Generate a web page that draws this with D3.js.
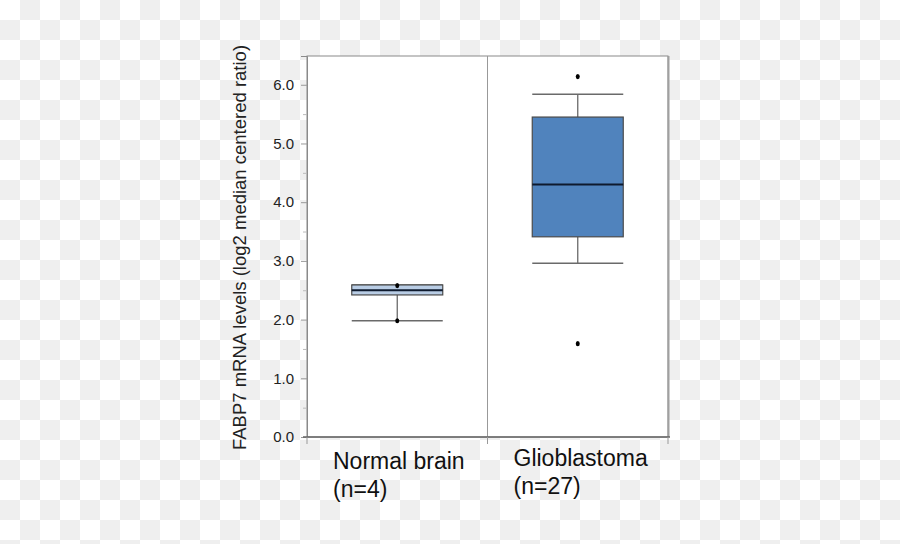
<!DOCTYPE html>
<html><head><meta charset="utf-8">
<script src="https://cdn.jsdelivr.net/npm/d3@7"></script>
<style>html,body{margin:0;padding:0;}svg{display:block;}</style>
</head><body>
<svg id="chart" width="900" height="544"></svg>
<script>
const categories = ["Normal brain", "Glioblastoma"];
const sampleCounts = ["(n=4)", "(n=27)"];
const q1 = [2.42, 3.41];
const medians = [2.50, 4.30];
const q3 = [2.59, 5.45];
const whiskerLow = [1.98, 2.96];
const whiskerHigh = [2.59, 5.84];
const outliers = [[1.98, 2.58], [6.14, 1.59]];
const boxFills = ["#b9cde5", "#5083bd"];
const yTicks = [0, 1, 2, 3, 4, 5, 6];
const yMinorTicks = [0.5, 1.5, 2.5, 3.5, 4.5, 5.5];
const yTitle = "FABP7 mRNA levels (log2 median centered ratio)";

(function () {
const svg = d3.select("#chart");
const W = 900, H = 544;

// checkerboard background (transparent PNG look)
const cells = [];
for (let r = 0; r < Math.ceil(H / 20); r++)
  for (let c = 0; c < Math.ceil(W / 20); c++)
    if ((r + c) % 2 === 1) cells.push([c, r]);
svg.append("rect").attr("width", W).attr("height", H).attr("fill", "#ffffff");
svg.append("g").selectAll("rect").data(cells).join("rect")
  .attr("x", d => d[0] * 20).attr("y", d => d[1] * 20).attr("width", 20).attr("height", 20)
  .attr("fill", "#efefef");

const pLeft = 307, pRight = 668, pTop = 56, pBottom = 437;
const x = d3.scaleBand().domain(categories).range([pLeft, pRight]).paddingInner(0).paddingOuter(0);
const y = d3.scaleLinear().domain([0, 6.49]).range([pBottom, pTop]);

// plot frame
svg.append("rect").attr("x", pLeft).attr("y", pTop).attr("width", pRight - pLeft).attr("height", pBottom - pTop)
  .attr("fill", "#ffffff").attr("stroke", "#8a8a8a").attr("stroke-width", 1);
svg.append("line").attr("x1", pRight + 0.5).attr("x2", pRight + 0.5).attr("y1", pTop).attr("y2", pBottom)
  .attr("stroke", "#a0a0a0").attr("stroke-width", 2);
// divider
svg.append("line").attr("x1", x(categories[1])).attr("x2", x(categories[1])).attr("y1", pTop).attr("y2", pBottom + 7)
  .attr("stroke", "#999").attr("stroke-width", 1);

// y axis
const yAxis = d3.axisLeft(y).tickValues(yTicks).tickFormat(d3.format(".1f")).tickSize(6).tickPadding(7);
const ga = svg.append("g").attr("transform", `translate(${pLeft},0)`).call(yAxis);
ga.select(".domain").attr("stroke", "#8a8a8a");
ga.selectAll(".tick line").attr("stroke", "#999");
ga.selectAll(".tick text").attr("font-family", "Liberation Sans, Arial, sans-serif").attr("font-size", 15).attr("fill", "#222");
const gm = svg.append("g").attr("transform", `translate(${pLeft},0)`)
  .call(d3.axisLeft(y).tickValues(yMinorTicks).tickFormat("").tickSize(4));
gm.select(".domain").remove();
gm.selectAll(".tick line").attr("stroke", "#bbb");

// x axis line + ticks
svg.append("line").attr("x1", pLeft - 4).attr("x2", pRight + 2).attr("y1", pBottom).attr("y2", pBottom)
  .attr("stroke", "#666").attr("stroke-width", 1.3);
[pLeft, x(categories[1]), pRight].forEach(px => {
  svg.append("line").attr("x1", px).attr("x2", px).attr("y1", pBottom).attr("y2", pBottom + 7).attr("stroke", "#999");
});

// y title
svg.append("text").attr("transform", `translate(246,${(pTop + pBottom) / 2 + 1}) rotate(-90)`)
  .attr("text-anchor", "middle").attr("font-family", "Liberation Sans, Arial, sans-serif")
  .attr("font-size", 18.5).attr("fill", "#222").text(yTitle);

// boxes
const bw = 91;
categories.forEach((c, i) => {
  const cx = x(c) + x.bandwidth() / 2;
  const g = svg.append("g");
  g.append("line").attr("x1", cx).attr("x2", cx).attr("y1", y(whiskerLow[i])).attr("y2", y(q1[i])).attr("stroke", "#6a6a6a").attr("stroke-width", 1.3);
  g.append("line").attr("x1", cx).attr("x2", cx).attr("y1", y(whiskerHigh[i])).attr("y2", y(q3[i])).attr("stroke", "#6a6a6a").attr("stroke-width", 1.3);
  g.append("line").attr("x1", cx - bw / 2).attr("x2", cx + bw / 2).attr("y1", y(whiskerLow[i])).attr("y2", y(whiskerLow[i])).attr("stroke", "#6a6a6a").attr("stroke-width", 1.5);
  g.append("line").attr("x1", cx - bw / 2).attr("x2", cx + bw / 2).attr("y1", y(whiskerHigh[i])).attr("y2", y(whiskerHigh[i])).attr("stroke", "#6a6a6a").attr("stroke-width", 1.5);
  g.append("rect").attr("x", cx - bw / 2).attr("width", bw).attr("y", y(q3[i])).attr("height", y(q1[i]) - y(q3[i]))
    .attr("fill", boxFills[i]).attr("stroke", "#4a4a4a").attr("stroke-width", 1.2);
  g.append("line").attr("x1", cx - bw / 2).attr("x2", cx + bw / 2).attr("y1", y(medians[i])).attr("y2", y(medians[i]))
    .attr("stroke", "#0e1a2e").attr("stroke-width", 2);
  outliers[i].forEach(v => {
    g.append("ellipse").attr("cx", cx).attr("cy", y(v)).attr("rx", 2).attr("ry", 2.6).attr("fill", "#000");
  });
  // labels
  const t = svg.append("text").attr("font-family", "Liberation Sans, Arial, sans-serif").attr("font-size", 23).attr("fill", "#111");
  const lx = x(c) + 26;
  const ly = i === 0 ? 469 : 466;
  t.append("tspan").attr("x", lx).attr("y", ly).text(c);
  t.append("tspan").attr("x", lx).attr("y", ly + 28).text(sampleCounts[i]);
});
})();
</script>
</body></html>
